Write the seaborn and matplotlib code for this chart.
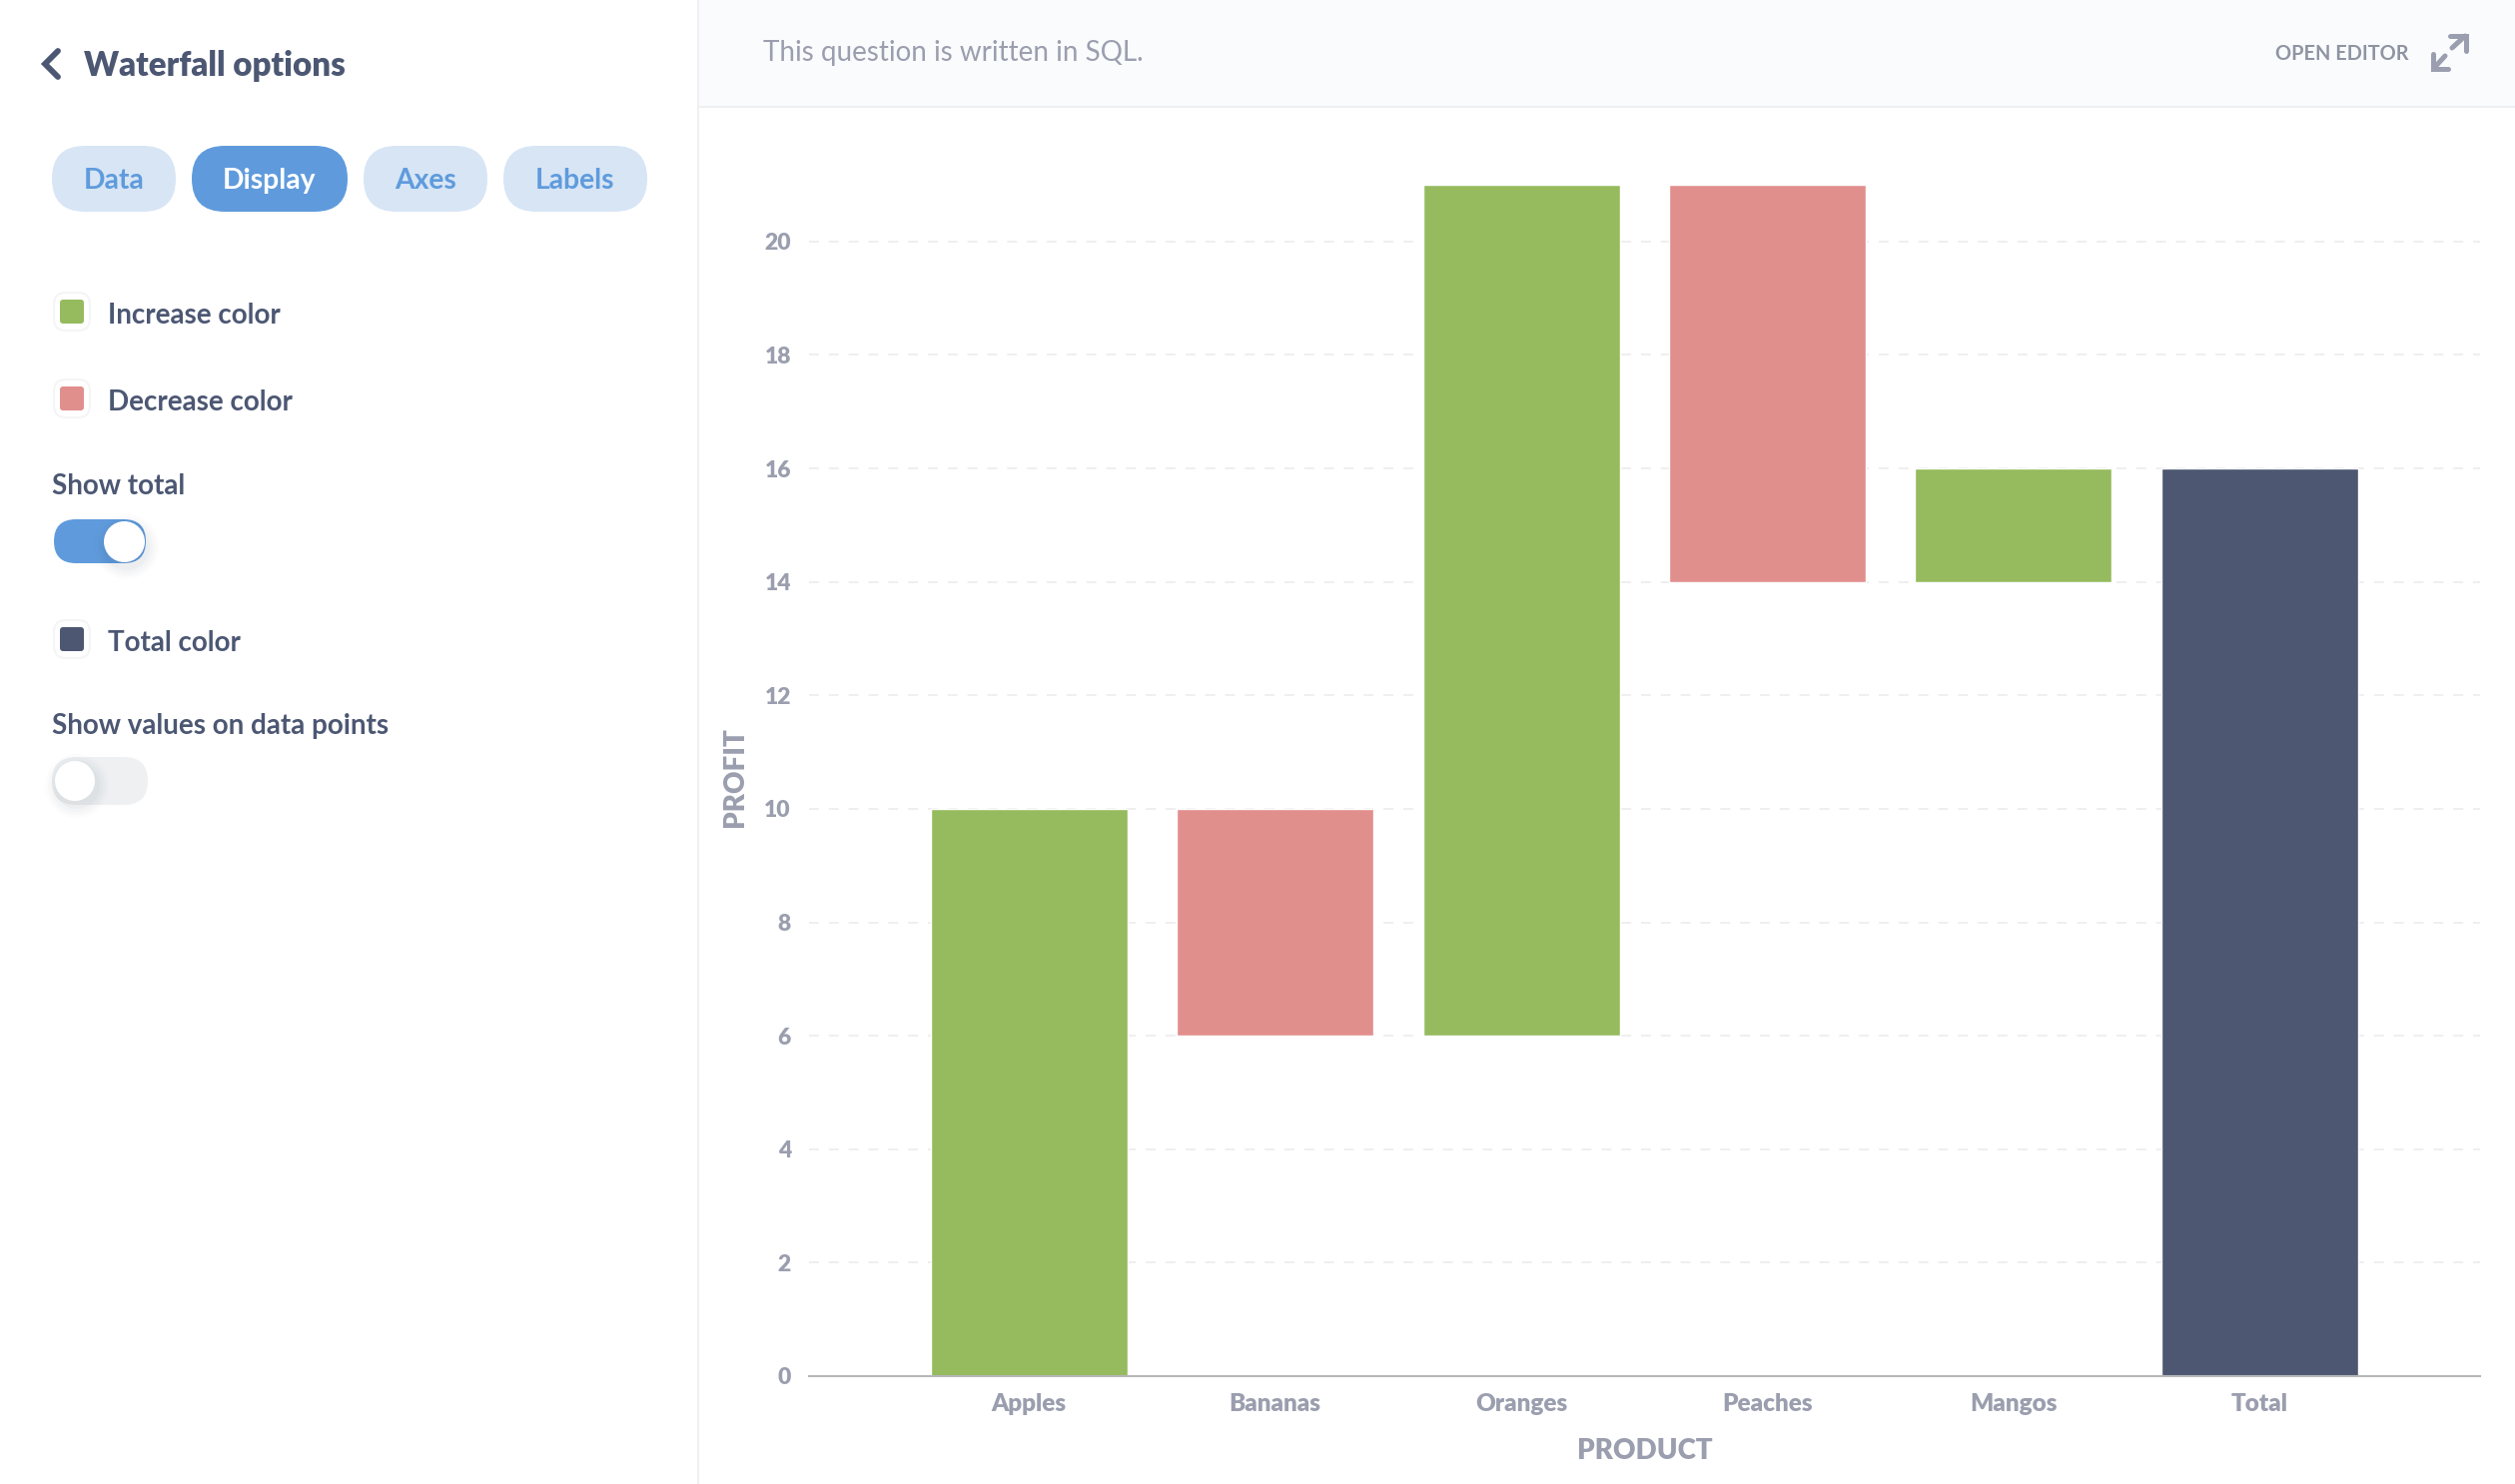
import matplotlib
matplotlib.use('Agg')
import matplotlib.pyplot as plt
import seaborn as sns
from matplotlib.patches import FancyBboxPatch, Circle, Rectangle

products = ['Apples', 'Bananas', 'Oranges', 'Peaches', 'Mangos', 'Total']
bar_bottoms = [0, 6, 6, 14, 14, 0]
bar_heights = [10, 4, 15, 7, 2, 16]
bar_kinds = ['increase', 'decrease', 'increase', 'decrease', 'increase', 'total']
y_ticks = [0, 2, 4, 6, 8, 10, 12, 14, 16, 18, 20]
tabs = ['Data', 'Display', 'Axes', 'Labels']

GREEN = '#96bb5e'
PINK = '#e18f8d'
NAVY = '#4d5772'
BLUE = '#5f9bdc'
BLUE_LIGHT = '#d7e5f5'
DARK_TEXT = '#4c5773'
GRAY_TEXT = '#9a9eae'
kind_colors = {'increase': GREEN, 'decrease': PINK, 'total': NAVY}

W, H = 2518, 1486

sns.set_style('white')
plt.rcParams['font.family'] = ['Lato', 'DejaVu Sans']

fig = plt.figure(figsize=(W / 100, H / 100), dpi=100, facecolor='white')


def pill(ui, x0, y0, x1, y1, color, radius=None, **kw):
    r = (y1 - y0) / 2 if radius is None else radius
    box = FancyBboxPatch((x0, y0), x1 - x0, y1 - y0, boxstyle=f'round,pad=0,rounding_size={r}',
                         facecolor=color, edgecolor='none', **kw)
    ui.add_patch(box)


def knob(ui, cx, cy, r):
    # soft shadow under the toggle knob
    for grow, alpha in [(12, 0.010), (9, 0.014), (6, 0.020), (3, 0.028)]:
        ui.add_patch(Circle((cx + 2, cy + 5), r + grow, facecolor='#20304a', edgecolor='none', alpha=alpha))
    ui.add_patch(Circle((cx, cy), r, facecolor='white', edgecolor='none'))


def swatch(ui, y, color, label):
    ui.add_patch(FancyBboxPatch((54, y - 19), 36, 38, boxstyle='round,pad=0,rounding_size=12',
                                facecolor='white', edgecolor='#f4f5f6', linewidth=1.5))
    pill(ui, 60, y - 12, 84, y + 12, color, radius=3)
    ui.text(108, y + 4, label, color=DARK_TEXT, fontsize=20, fontweight='bold', va='center')


# interface around the chart, drawn in pixel coordinates
ui = fig.add_axes([0, 0, 1, 1])
ui.set_xlim(0, W)
ui.set_ylim(H, 0)
ui.axis('off')

ui.add_patch(Rectangle((699, 0), W - 699, 107, facecolor='#f9fbfc', edgecolor='none'))
ui.plot([699, W], [107, 107], color='#eff0f2', lw=1.5)
ui.plot([699, 699], [0, H], color='#f0f0f2', lw=1.5)

ui.plot([58, 45, 58], [51, 64, 77], color=DARK_TEXT, lw=4.2, solid_capstyle='round', solid_joinstyle='miter')
ui.text(84, 66, 'Waterfall options', color=DARK_TEXT, fontsize=23.8, fontweight='heavy', va='center')

tab_edges = [(52, 176), (192, 348), (364, 488), (504, 648)]
for name, (x0, x1) in zip(tabs, tab_edges):
    active = name == 'Display'
    pill(ui, x0, 146, x1, 212, BLUE if active else BLUE_LIGHT)
    ui.text((x0 + x1) / 2, 181, name, color='white' if active else BLUE, fontsize=20.3,
            fontweight='bold', ha='center', va='center')

swatch(ui, 312, GREEN, 'Increase color')
swatch(ui, 399, PINK, 'Decrease color')
swatch(ui, 640, NAVY, 'Total color')

ui.text(52, 487, 'Show total', color=DARK_TEXT, fontsize=20, fontweight='bold', va='center')
pill(ui, 54, 520, 146, 564, BLUE)
knob(ui, 124.5, 542.5, 20.5)

ui.text(52, 727, 'Show values on data points', color=DARK_TEXT, fontsize=20, fontweight='bold', va='center')
pill(ui, 52, 758, 148, 806, '#eef0f2')
knob(ui, 75, 782, 20)

ui.text(764, 53, 'This question is written in SQL.', color=GRAY_TEXT, fontsize=20, va='center')
ui.text(2278, 54, 'OPEN EDITOR', color='#8f94a3', fontsize=14.3, fontweight='bold', va='center')

# expand icon
icon_kw = dict(color=GRAY_TEXT, lw=3.6, solid_capstyle='round', solid_joinstyle='miter')
ui.plot([2455, 2468], [48, 36], **icon_kw)
ui.plot([2453, 2469, 2469], [36, 36, 51], **icon_kw)
ui.plot([2448, 2437], [56, 68], **icon_kw)
ui.plot([2436, 2436, 2451], [54, 69, 69], **icon_kw)

# chart
ax = fig.add_axes([810 / W, (H - 1378) / H, 1673 / W, 1193 / H])
ax.patch.set_alpha(0)
sns.barplot(x=products, y=bar_heights, bottom=bar_bottoms, width=0.8, saturation=1, color=GREEN, ax=ax)
for bar, kind in zip(ax.patches, bar_kinds):
    bar.set_facecolor(kind_colors[kind])

ax.set_xlim(-0.894, 5.896)
ax.set_ylim(0, 21)
ax.set_yticks(y_ticks)
ax.set_xticks([-0.894, 5.896], minor=True)
ax.set_axisbelow(True)
ax.yaxis.grid(True, color='#efeff0', lw=1.4, linestyle=(0, (5.1, 5.1)))
ax.xaxis.grid(False)

sns.despine(ax=ax, left=True)
ax.spines['bottom'].set_color('#b6b7ba')
ax.spines['bottom'].set_linewidth(1.5)

ax.tick_params(axis='y', length=0, pad=13, labelsize=16.5, labelcolor=GRAY_TEXT)
ax.tick_params(axis='x', which='major', length=0, pad=12.5, labelsize=17.5, labelcolor=GRAY_TEXT)
ax.tick_params(axis='x', which='minor', length=8, width=1.4, color='#b6b7ba')
for label in ax.get_xticklabels() + ax.get_yticklabels():
    label.set_fontweight('heavy')

ax.set_xlabel('PRODUCT', color=GRAY_TEXT, fontsize=20, fontweight='heavy', va='center')
ax.set_ylabel('PROFIT', color=GRAY_TEXT, fontsize=20, fontweight='heavy', va='center')
ax.xaxis.set_label_coords(0.5, -75 / 1193)
ax.yaxis.set_label_coords(-74 / 1673, 0.5027)

fig.savefig('out.png', dpi=100)
